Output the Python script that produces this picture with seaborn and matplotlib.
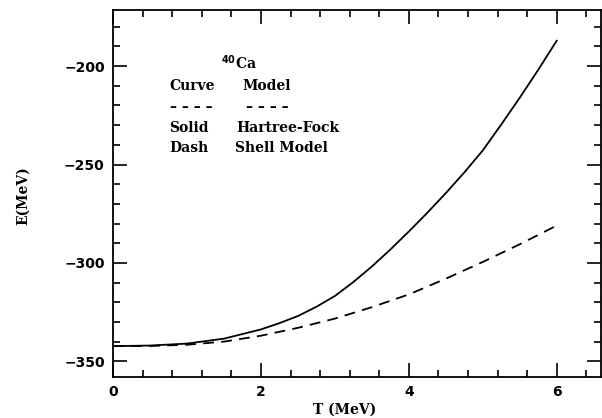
import matplotlib
matplotlib.use("Agg")
import matplotlib.pyplot as plt
import seaborn as sns
import pandas as pd
from matplotlib.ticker import MultipleLocator

# temperature (MeV)
temperatura_hf = [0.0, 0.5, 1.0, 1.5, 2.0, 2.25, 2.5, 2.75, 3.0, 3.25, 3.5, 3.75,
                  4.0, 4.25, 4.5, 4.75, 5.0, 5.25, 5.5, 5.75, 6.0]
# Hartree-Fock energy (MeV)
energia_hf = [-342.3, -342.0, -341.0, -338.5, -333.8, -330.6, -327.0, -322.3,
              -316.8, -309.7, -301.8, -293.2, -284.0, -274.5, -264.5, -254.0,
              -242.8, -229.6, -216.0, -201.8, -187.0]
temperatura_sm = [0.0, 0.5, 1.0, 1.5, 2.0, 2.5, 3.0, 3.5, 4.0, 4.5, 5.0, 5.5, 6.0]
# Shell model energy (MeV)
energia_sm = [-342.3, -342.2, -341.6, -340.0, -337.0, -333.0, -328.3, -322.5,
              -316.0, -308.0, -299.5, -290.5, -281.0]

sns.set_style("ticks")
plt.rcParams["font.family"] = ["DejaVu Sans"]
plt.rcParams["text.color"] = "black"
plt.rcParams["xtick.color"] = "black"
plt.rcParams["ytick.color"] = "black"
plt.rcParams["axes.edgecolor"] = "black"
plt.rcParams["axes.labelcolor"] = "black"

df_hf = pd.DataFrame({"T": temperatura_hf, "E": energia_hf})
df_sm = pd.DataFrame({"T": temperatura_sm, "E": energia_sm})

fig = plt.figure(figsize=(6.02, 4.18), dpi=100)
ax = fig.add_axes([0.1877, 0.098, 0.811, 0.878])

sns.lineplot(data=df_hf, x="T", y="E", ax=ax, color="black", linewidth=1.3)
sns.lineplot(data=df_sm, x="T", y="E", ax=ax, color="black", linewidth=1.3)
ax.lines[1].set_linestyle((0, (6, 4)))

ax.set_xlim(0, 6.6)
ax.set_ylim(-358, -171.5)
ax.xaxis.set_major_locator(MultipleLocator(2))
ax.xaxis.set_minor_locator(MultipleLocator(0.4))
ax.yaxis.set_major_locator(MultipleLocator(50))
ax.yaxis.set_minor_locator(MultipleLocator(10))
ax.tick_params(which="both", direction="in", top=True, right=True, width=1.2)
ax.tick_params(which="major", length=10, labelsize=10, pad=6)
ax.tick_params(which="minor", length=5)
for s in ax.spines.values():
    s.set_linewidth(1.3)
for lab in ax.get_xticklabels() + ax.get_yticklabels():
    lab.set_fontweight("bold")

serif = ["DejaVu Serif"]
ax.set_xlabel("T (MeV)", fontsize=10, fontweight="bold", family=serif)
ax.set_ylabel("E(MeV)", fontsize=10, fontweight="bold", family=serif)
ax.xaxis.set_label_coords(0.474, -0.071)
ax.yaxis.set_label_coords(-0.17, 0.493)

kw = dict(fontsize=10, fontweight="bold", family=serif, va="baseline")
ax.text(1.46, -201.5, r"$^{\mathbf{40}}$Ca", **kw)
ax.text(0.757, -212.2, "Curve", **kw)
ax.text(1.743, -212.2, "Model", **kw)
ax.text(0.77, -221.0, "– – – –", fontsize=10, fontweight="bold", family=serif, va="center")
ax.text(1.80, -221.0, "– – – –", fontsize=10, fontweight="bold", family=serif, va="center")
ax.text(0.757, -233.6, "Solid", **kw)
ax.text(1.662, -233.6, "Hartree-Fock", **kw)
ax.text(0.757, -243.7, "Dash", **kw)
ax.text(1.649, -243.7, "Shell Model", **kw)

fig.savefig("out.png", dpi=100)
